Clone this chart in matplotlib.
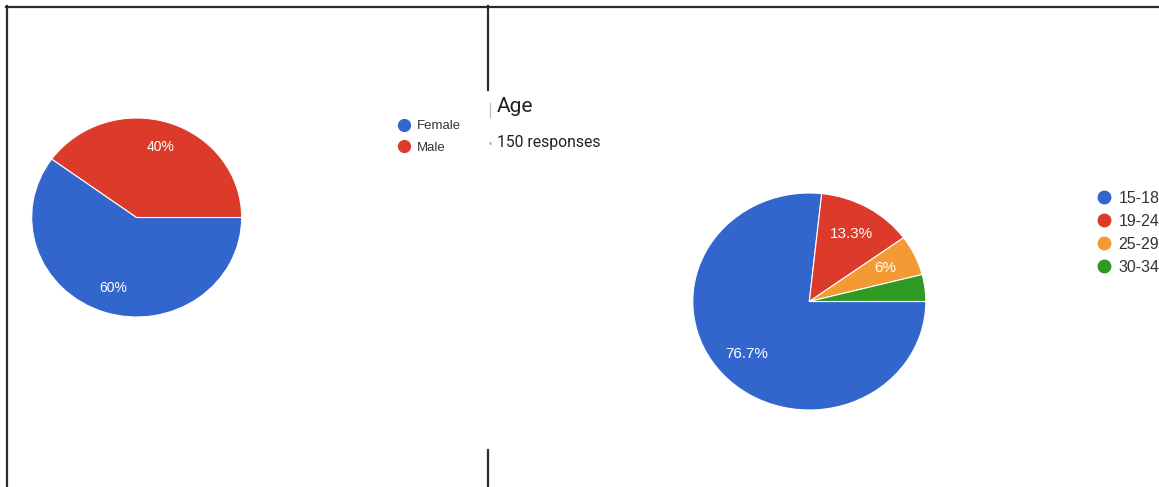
import matplotlib
matplotlib.use("Agg")
import matplotlib.pyplot as plt
from matplotlib.lines import Line2D

W, H = 1159, 487
plt.rcParams['font.family'] = ['Liberation Sans', 'DejaVu Sans']

# ---- data ----
gender_labels = ["Female", "Male"]
gender_values = [60, 40]
age_labels = ["15-18", "19-24", "25-29", "30-34"]
age_values = [76.7, 13.3, 6, 4]
age_title = "Age"
age_subtitle = "150 responses"

gender_colors = ["#3366cc", "#dc3a2b"]
age_colors = ["#3366cc", "#dc3a2b", "#f49a35", "#2f9a22"]

fig = plt.figure(figsize=(W / 100, H / 100), dpi=100)
fig.patch.set_facecolor("white")


def px_axes(cx, cy, rx, ry):
    return fig.add_axes([(cx - rx) / W, (H - cy - ry) / H, 2 * rx / W, 2 * ry / H])


def fmt(min_pct):
    def f(p):
        if p < min_pct:
            return ""
        s = f"{p:.1f}"
        if s.endswith(".0"):
            s = s[:-2]
        return s + "%"
    return f


# ---- left pie (gender) ----
ax1 = px_axes(136.7, 217.5, 105, 99.5)
w1, t1, a1 = ax1.pie(gender_values, colors=gender_colors, startangle=0,
                     counterclock=False, radius=1.0, autopct=fmt(5),
                     pctdistance=0.74,
                     wedgeprops=dict(edgecolor="white", linewidth=0.8),
                     textprops=dict(color="white", fontsize=10))
ax1.set_aspect("auto")
ax1.set_xlim(-1, 1)
ax1.set_ylim(-1, 1)
ax1.axis("off")

# ---- right pie (age) ----
ax2 = px_axes(809.3, 301.5, 116.5, 108.5)
w2, t2, a2 = ax2.pie(age_values, colors=age_colors, startangle=0,
                     counterclock=False, radius=1.0, autopct=fmt(5),
                     pctdistance=0.72,
                     wedgeprops=dict(edgecolor="white", linewidth=0.8),
                     textprops=dict(color="white", fontsize=11))
ax2.set_aspect("auto")
ax2.set_xlim(-1, 1)
ax2.set_ylim(-1, 1)
ax2.axis("off")

# ---- legends ----
h1 = [Line2D([], [], marker="o", linestyle="none", markersize=8.5,
             markerfacecolor=c, markeredgecolor=c) for c in gender_colors]
fig.legend(h1, gender_labels, loc="upper left",
           bbox_to_anchor=(396 / W, 1 - 120 / H), frameon=False,
           fontsize=9.5, handletextpad=0.4, labelspacing=0.7,
           borderpad=0, borderaxespad=0, labelcolor="#333333",
           handlelength=1.2)

h2 = [Line2D([], [], marker="o", linestyle="none", markersize=9,
             markerfacecolor=c, markeredgecolor=c) for c in age_colors]
fig.legend(h2, age_labels, loc="upper left",
           bbox_to_anchor=(1095 / W, 1 - 191 / H), frameon=False,
           fontsize=11.5, handletextpad=0.37, labelspacing=0.5,
           borderpad=0, borderaxespad=0, labelcolor="#333333",
           handlelength=1.1)

# ---- titles ----
fig.text(497 / W, 1 - 107 / H, age_title, fontsize=15, color="#202124",
         va="center", ha="left", family=["Roboto", "DejaVu Sans"])
fig.text(497 / W, 1 - 142 / H, age_subtitle, fontsize=11.3, color="#202124",
         va="center", ha="left", family=["Roboto", "DejaVu Sans"])

# ---- screenshot border lines ----
ov = fig.add_axes([0, 0, 1, 1], zorder=-1)
ov.set_xlim(0, W)
ov.set_ylim(H, 0)
ov.axis("off")
dark = "#2b2b2b"
ov.plot([6, W], [7, 7], color=dark, lw=1.6)
ov.plot([7, 7], [6, H], color=dark, lw=1.6)
ov.plot([487.5, 487.5], [6, 90], color=dark, lw=1.6)
ov.plot([487.5, 487.5], [450, H], color=dark, lw=1.6)
ov.plot([490, 490], [103, 117], color="#c0c0c0", lw=0.9)
ov.plot([490], [143], marker="o", markersize=1.2, color="#c0c0c0")

fig.savefig("out.png", dpi=100, facecolor="white")
